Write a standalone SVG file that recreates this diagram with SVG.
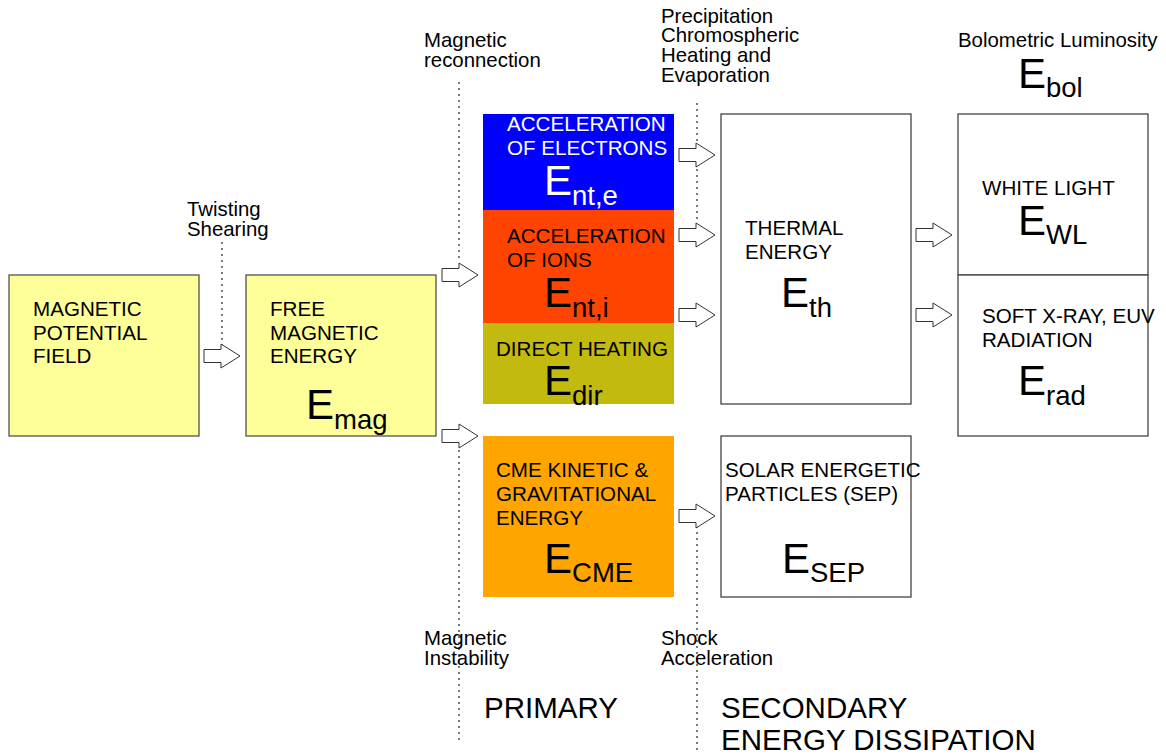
<svg xmlns="http://www.w3.org/2000/svg" width="1166" height="754" viewBox="0 0 1166 754">
<style>
  text { font-family: "Liberation Sans", Arial, sans-serif; fill: #000; }
  .t { font-size: 20.6px; }
  .lbl { font-size: 20.4px; }
  .big { font-size: 29.5px; }
  .E { font-size: 42px; }
  .sub { font-size: 27.5px; }
  .w { fill: #fff; }
  .yel { fill: #FFFF99; stroke: #444; stroke-width: 1.2; }
  .box { fill: #fff; stroke: #444; stroke-width: 1.3; }
  .arr { fill: #fff; stroke: #333; stroke-width: 1; }
  .dot { stroke: #333; stroke-width: 1.3; stroke-dasharray: 2 4; fill: none; }
</style>
<defs>
  <polygon id="ba" points="0,-6.5 17,-6.5 17,-12 36,0 17,12 17,6.5 0,6.5"/>
</defs>
<rect width="1166" height="754" fill="#fff"/>

<g id="guides">
  <line class="dot" x1="222" y1="242" x2="222" y2="349"/>
  <line class="dot" x1="459" y1="82" x2="459" y2="262"/>
  <line class="dot" x1="459" y1="450" x2="459" y2="742"/>
  <line class="dot" x1="697" y1="103" x2="697" y2="222"/>
  <line class="dot" x1="697" y1="508" x2="697" y2="750"/>
</g>

<g id="magnetic-potential-field">
  <rect class="yel" x="9" y="275" width="190" height="161"/>
  <text class="t" x="33" y="316">MAGNETIC</text>
  <text class="t" x="33" y="339.5">POTENTIAL</text>
  <text class="t" x="33" y="363">FIELD</text>
</g>

<g id="free-magnetic-energy">
  <rect class="yel" x="246" y="275" width="190" height="161"/>
  <text class="t" x="270" y="316">FREE</text>
  <text class="t" x="270" y="339.5">MAGNETIC</text>
  <text class="t" x="270" y="363">ENERGY</text>
  <text class="E" x="306" y="419">E<tspan class="sub" dy="10">mag</tspan></text>
</g>

<g id="acceleration-electrons">
  <rect x="483" y="114" width="191" height="96" fill="#0000FF"/>
  <text class="t w" x="507" y="131">ACCELERATION</text>
  <text class="t w" x="507" y="155">OF ELECTRONS</text>
  <text class="E w" x="544" y="195">E<tspan class="sub w" dy="10">nt,e</tspan></text>
</g>

<g id="acceleration-ions">
  <rect x="483" y="210" width="191" height="113" fill="#FF4400"/>
  <text class="t" x="507" y="243">ACCELERATION</text>
  <text class="t" x="507" y="267">OF IONS</text>
  <text class="E" x="544" y="307">E<tspan class="sub" dy="10">nt,i</tspan></text>
</g>

<g id="direct-heating">
  <rect x="483" y="323" width="191" height="81" fill="#C2BA0E"/>
  <text class="t" x="496" y="356">DIRECT HEATING</text>
  <text class="E" x="544" y="395">E<tspan class="sub" dy="10">dir</tspan></text>
</g>

<g id="cme-energy">
  <rect x="483" y="436" width="191" height="161" fill="#FFA500"/>
  <text class="t" x="496" y="477">CME KINETIC &amp;</text>
  <text class="t" x="496" y="501">GRAVITATIONAL</text>
  <text class="t" x="496" y="525">ENERGY</text>
  <text class="E" x="544" y="573">E<tspan class="sub" dy="9">CME</tspan></text>
</g>

<g id="thermal-energy">
  <rect class="box" x="721" y="114" width="190" height="290"/>
  <text class="t" x="745" y="235">THERMAL</text>
  <text class="t" x="745" y="259">ENERGY</text>
  <text class="E" x="781" y="307">E<tspan class="sub" dy="10">th</tspan></text>
</g>

<g id="sep">
  <rect class="box" x="721" y="436" width="190" height="161"/>
  <text class="t" x="725" y="477">SOLAR ENERGETIC</text>
  <text class="t" x="725" y="501">PARTICLES (SEP)</text>
  <text class="E" x="782" y="573">E<tspan class="sub" dy="9">SEP</tspan></text>
</g>

<g id="white-light">
  <rect class="box" x="958" y="114" width="190" height="161"/>
  <text class="t" x="982" y="195">WHITE LIGHT</text>
  <text class="E" x="1018" y="235">E<tspan class="sub" dy="9">WL</tspan></text>
</g>

<g id="radiation">
  <rect class="box" x="958" y="275" width="190" height="161"/>
  <text class="t" x="982" y="323">SOFT X-RAY, EUV</text>
  <text class="t" x="982" y="347">RADIATION</text>
  <text class="E" x="1018" y="395">E<tspan class="sub" dy="10">rad</tspan></text>
</g>

<g id="bolometric">
  <text class="lbl" x="958" y="47">Bolometric Luminosity</text>
  <text class="E" x="1018" y="88">E<tspan class="sub" dy="9">bol</tspan></text>
</g>

<g id="connectors">
  <use href="#ba" class="arr" x="204" y="356"/>
  <use href="#ba" class="arr" x="442" y="275"/>
  <use href="#ba" class="arr" x="442" y="436"/>
  <use href="#ba" class="arr" x="679" y="155"/>
  <use href="#ba" class="arr" x="679" y="235"/>
  <use href="#ba" class="arr" x="679" y="315"/>
  <use href="#ba" class="arr" x="679" y="516"/>
  <use href="#ba" class="arr" x="916" y="235"/>
  <use href="#ba" class="arr" x="916" y="315"/>
</g>

<g id="labels">
  <text class="lbl" x="187" y="216">Twisting</text>
  <text class="lbl" x="187" y="236">Shearing</text>
  <text class="lbl" x="424" y="47">Magnetic</text>
  <text class="lbl" x="424" y="66.5">reconnection</text>
  <text class="lbl" x="661" y="22.5">Precipitation</text>
  <text class="lbl" x="661" y="42.3">Chromospheric</text>
  <text class="lbl" x="661" y="62">Heating and</text>
  <text class="lbl" x="661" y="81.7">Evaporation</text>
  <text class="lbl" x="424" y="645">Magnetic</text>
  <text class="lbl" x="424" y="665">Instability</text>
  <text class="lbl" x="661" y="645">Shock</text>
  <text class="lbl" x="661" y="665">Acceleration</text>
  <text class="big" x="484" y="718">PRIMARY</text>
  <text class="big" x="721" y="718">SECONDARY</text>
  <text class="big" x="721" y="750">ENERGY DISSIPATION</text>
</g>
</svg>
